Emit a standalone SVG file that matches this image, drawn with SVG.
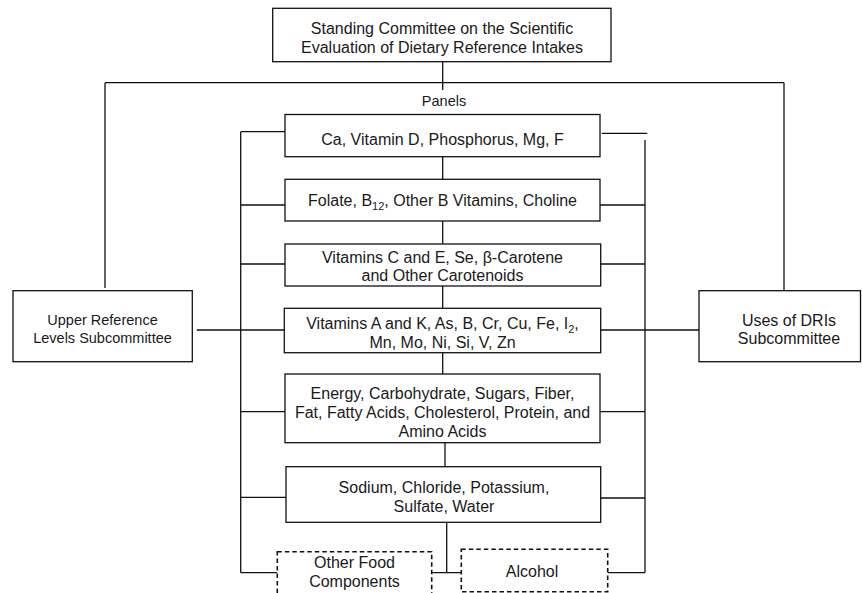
<svg xmlns="http://www.w3.org/2000/svg" width="862" height="593" viewBox="0 0 862 593">
<style>
.box{fill:#fff;stroke:#111;stroke-width:1.3}
.dash{fill:#fff;stroke:#111;stroke-width:1.6;stroke-dasharray:4.5 3}
.ln{fill:none;stroke:#111;stroke-width:1.3}
text{font-family:"Liberation Sans",Arial,sans-serif;font-size:16px;fill:#1a1a1a;text-anchor:middle}
.sm{font-size:14.5px}
.sub{font-size:11px}
</style>
<rect width="862" height="593" fill="#fff"/>
<g id="connectors" class="ln">
<path d="M442.7,61.7V90M105,82.7H784M105,82.7V288M784,82.7V290.7"/>
<path d="M196.7,330H284.3M600.7,330H699"/>
<path d="M240.7,131.7V572.7M240.7,131.7H285M240.7,205H285M240.7,264H285M240.7,411.7H285M240.7,497.3H286M240.7,572.7H277.3"/>
<path d="M645,140V572.7M601.7,133.3H647.3M600,205H645M600.7,264H645M600,411.7H645M600.7,498H645M607.7,572.7H645"/>
<path d="M442.7,156.7V179.3M442.7,221V244M442.7,286V308.3M442.7,352.7V374M445,442.7V466.7M446.7,522.3V572.7M431.7,572.7H461.3"/>
</g>
<g id="committee">
<rect class="box" x="272.7" y="8.3" width="338.3" height="53.4"/>
<text x="442" y="34">Standing Committee on the Scientific</text>
<text x="442" y="53">Evaluation of Dietary Reference Intakes</text>
</g>
<g id="panels-label"><text class="sm" x="444" y="106">Panels</text></g>
<g id="panel1">
<rect class="box" x="285" y="114.5" width="315" height="42.2"/>
<text x="442.5" y="145">Ca, Vitamin D, Phosphorus, Mg, F</text>
</g>
<g id="panel2">
<rect class="box" x="285" y="179.3" width="315" height="41.7"/>
<text x="442.5" y="206">Folate, B<tspan class="sub" dy="4">12</tspan><tspan dy="-4">, Other B Vitamins, Choline</tspan></text>
</g>
<g id="panel3">
<rect class="box" x="285" y="244" width="315.7" height="42"/>
<text x="442.5" y="262.5">Vitamins C and E, Se, β-Carotene</text>
<text x="442.5" y="281">and Other Carotenoids</text>
</g>
<g id="panel4">
<rect class="box" x="284.3" y="308.3" width="316.4" height="44.4"/>
<text x="442.5" y="328.5">Vitamins A and K, As, B, Cr, Cu, Fe, I<tspan class="sub" dy="4">2</tspan><tspan dy="-4">,</tspan></text>
<text x="442.5" y="347.5">Mn, Mo, Ni, Si, V, Zn</text>
</g>
<g id="panel5">
<rect class="box" x="285" y="374" width="315" height="68.7"/>
<text x="442.5" y="399">Energy, Carbohydrate, Sugars, Fiber,</text>
<text x="442.5" y="417.5">Fat, Fatty Acids, Cholesterol, Protein, and</text>
<text x="442.5" y="436.5">Amino Acids</text>
</g>
<g id="panel6">
<rect class="box" x="286" y="466.7" width="314.7" height="55.6"/>
<text x="444" y="492.5">Sodium, Chloride, Potassium,</text>
<text x="444" y="511.5">Sulfate, Water</text>
</g>
<g id="other-food">
<rect class="dash" x="277.3" y="551.7" width="154.4" height="50"/>
<text x="354.5" y="568">Other Food</text>
<text x="354.5" y="586.5">Components</text>
</g>
<g id="alcohol">
<rect class="dash" x="461.3" y="549.3" width="146.4" height="42.4"/>
<text x="532" y="576.5">Alcohol</text>
</g>
<g id="upper">
<rect class="box" x="13" y="290.7" width="179.3" height="71"/>
<text class="sm" x="102.5" y="324.5">Upper Reference</text>
<text class="sm" x="102.5" y="342.5">Levels Subcommittee</text>
</g>
<g id="uses">
<rect class="box" x="699" y="290.7" width="161.5" height="71"/>
<text x="789" y="325.5">Uses of DRIs</text>
<text x="789" y="343.5">Subcommittee</text>
</g>
</svg>
